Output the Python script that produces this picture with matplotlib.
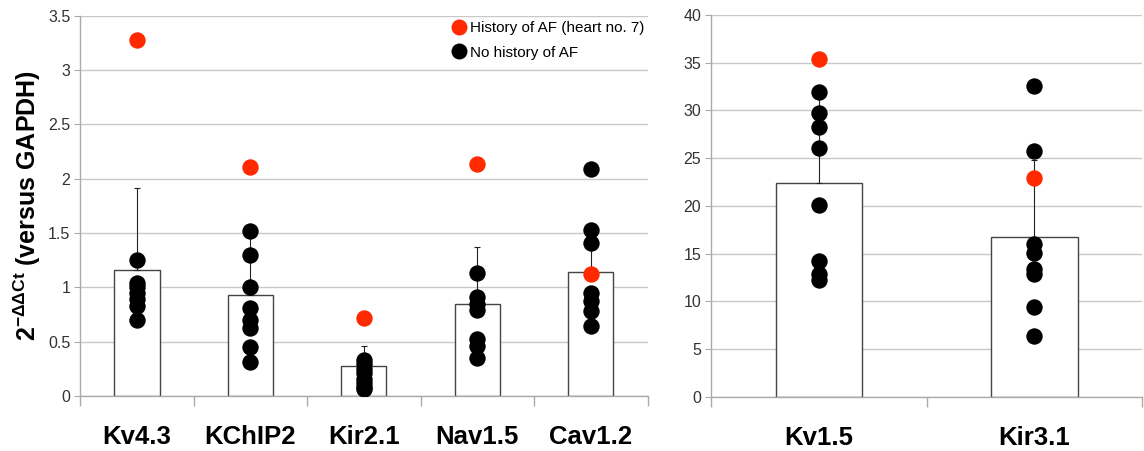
import matplotlib.pyplot as plt
from matplotlib.lines import Line2D

plt.rcParams['font.family'] = ['Liberation Sans', 'DejaVu Sans']
plt.rcParams['mathtext.fontset'] = 'custom'
plt.rcParams['mathtext.rm'] = 'Liberation Sans'
plt.rcParams['mathtext.bf'] = 'Liberation Sans:bold'

RED = '#ff2a00'

# left panel: low-expression channels
genes_a = ['Kv4.3', 'KChIP2', 'Kir2.1', 'Nav1.5', 'Cav1.2']
mean_a = [1.16, 0.93, 0.28, 0.85, 1.14]
sd_a = [0.755, 0.55, 0.18, 0.52, 0.38]
af_a = [3.28, 2.11, 0.72, 2.14, 1.12]
no_af_a = [
    [1.25, 1.04, 1.00, 0.95, 0.89, 0.83, 0.70],
    [1.52, 1.30, 1.00, 0.81, 0.70, 0.63, 0.45, 0.31],
    [0.33, 0.29, 0.25, 0.21, 0.16, 0.12, 0.08, 0.06],
    [1.13, 0.91, 0.85, 0.79, 0.52, 0.46, 0.35],
    [2.09, 1.53, 1.41, 0.95, 0.87, 0.78, 0.64],
]

# right panel: high-expression channels
genes_b = ['Kv1.5', 'Kir3.1']
mean_b = [22.4, 16.7]
sd_b = [9.0, 8.1]
af_b = [35.4, 22.9]
no_af_b = [
    [31.9, 29.7, 28.3, 26.1, 20.1, 14.2, 12.9, 12.2],
    [32.6, 25.7, 16.0, 15.1, 13.4, 12.9, 9.4, 6.4],
]


def draw_panel(ax, genes, means, sds, af, no_af, ymax, ystep):
    x = list(range(len(genes)))
    ax.bar(x, means, width=0.4, color='white', edgecolor='#444444',
           linewidth=1.0, zorder=2)
    ax.errorbar(x, means, yerr=[[0] * len(x), sds], fmt='none',
                ecolor='#222222', elinewidth=0.8, capsize=2, capthick=0.8,
                zorder=3)
    for i, vals in enumerate(no_af):
        ax.plot([i] * len(vals), vals, 'o', color='black', markersize=11.8,
                markeredgewidth=0, zorder=4)
    ax.plot(x, af, 'o', color=RED, markersize=11.8, markeredgewidth=0,
            zorder=5)

    n_ticks = int(round(ymax / ystep)) + 1
    ax.set_xlim(-0.5, len(genes) - 0.5)
    ax.set_ylim(0, ymax)
    ax.set_yticks([i * ystep for i in range(n_ticks)])
    ax.set_yticklabels(['%g' % (i * ystep) for i in range(n_ticks)])
    ax.set_xticks(x)
    ax.set_xticklabels(genes, fontsize=18.5, fontweight='bold')
    ax.set_xticks([i - 0.5 for i in range(len(genes) + 1)], minor=True)
    ax.tick_params(axis='x', which='major', length=0, pad=21)
    ax.tick_params(axis='x', which='minor', length=7, color='#aaaaaa',
                   width=1)
    ax.tick_params(axis='y', length=4, color='#aaaaaa', labelsize=11.5,
                   labelcolor='#333333', pad=3)
    ax.grid(axis='y', color='#c8c8c8', linewidth=1, zorder=0)
    ax.set_axisbelow(True)
    for side in ['top', 'right']:
        ax.spines[side].set_visible(False)
    for side in ['left', 'bottom']:
        ax.spines[side].set_color('#aaaaaa')
        ax.spines[side].set_linewidth(1)


fig = plt.figure(figsize=(11.44, 4.51), dpi=100)
ax1 = fig.add_axes([0.070, 0.122, 0.496, 0.843])
ax2 = fig.add_axes([0.6215, 0.120, 0.377, 0.847])

draw_panel(ax1, genes_a, mean_a, sd_a, af_a, no_af_a, 3.5, 0.5)
draw_panel(ax2, genes_b, mean_b, sd_b, af_b, no_af_b, 40, 5)

ax1.set_ylabel(r'$\mathbf{2^{-\Delta\Delta Ct}}$ (versus GAPDH)',
               fontsize=18, fontweight='bold', labelpad=4)

handles = [
    Line2D([], [], marker='o', linestyle='none', color=RED, markersize=11.5,
           markeredgewidth=0, label='History of AF (heart no. 7)'),
    Line2D([], [], marker='o', linestyle='none', color='black',
           markersize=11.5, markeredgewidth=0, label='No history of AF'),
]
ax1.legend(handles=handles, loc='upper right', bbox_to_anchor=(1.01, 1.01),
           frameon=False, fontsize=11, handletextpad=0.1, borderaxespad=0.2,
           labelspacing=0.7, handlelength=1.2)

fig.savefig('out.png', dpi=100)
